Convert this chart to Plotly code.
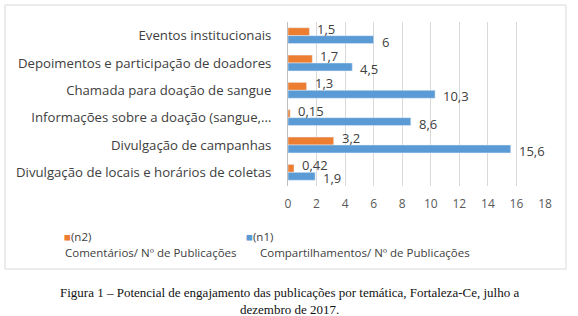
import plotly.graph_objects as go

categories = ["Eventos institucionais", "Depoimentos e participação de doadores",
              "Chamada para doação de sangue", "Informações sobre a doação (sangue,...",
              "Divulgação de campanhas", "Divulgação de locais e horários de coletas"]
n2_values = [1.5, 1.7, 1.3, 0.15, 3.2, 0.42]
n1_values = [6, 4.5, 10.3, 8.6, 15.6, 1.9]
n2_labels = ["1,5", "1,7", "1,3", "0,15", "3,2", "0,42"]
n1_labels = ["6", "4,5", "10,3", "8,6", "15,6", "1,9"]
n2_name = ["(n2)", "Comentários/ Nº de Publicações"]
n1_name = ["(n1)", "Compartilhamentos/ Nº de Publicações"]
x_ticks = [0, 2, 4, 6, 8, 10, 12, 14, 16, 18]
caption = "Figura 1 – Potencial de engajamento das publicações por temática, Fortaleza-Ce, julho a<br>dezembro de 2017."

ORANGE = "#ED7D31"
BLUE = "#5B9BD5"
font = "Open Sans"

fig = go.Figure()
fig.add_trace(go.Bar(y=categories, x=n2_values, orientation="h", name=" ".join(n2_name),
                     marker_color=ORANGE, showlegend=False))
fig.add_trace(go.Bar(y=categories, x=n1_values, orientation="h", name=" ".join(n1_name),
                     marker_color=BLUE, showlegend=False))

# plot area: x 288..545, y 22..186 (px)
PL, PR, PT, PB = 288, 545, 22, 186
W, H = PR - PL, PB - PT


def px_x(x):
    return (x - PL) / W


def px_y(y):
    return (PB - y) / H


annotations = []
label_font = dict(family=font, size=13, color="#404040")
for cat, v, lab in zip(categories, n2_values, n2_labels):
    annotations.append(dict(x=v, y=cat, xref="x", yref="y", text=lab, showarrow=False,
                            xanchor="left", yanchor="middle", xshift=6, yshift=7,
                            font=label_font))
for cat, v, lab in zip(categories, n1_values, n1_labels):
    annotations.append(dict(x=v, y=cat, xref="x", yref="y", text=lab, showarrow=False,
                            xanchor="left", yanchor="middle", xshift=6, yshift=-6,
                            font=label_font))

legend_font = dict(family=font, size=11.5, color="#404040")
for name, color, sx, lx in [(n2_name, ORANGE, 62, 63), (n1_name, BLUE, 244, 258)]:
    annotations.append(dict(text=f'<span style="color:{color}">■</span>{name[0]}',
                            xref="paper", yref="paper", x=px_x(sx), y=px_y(236),
                            xanchor="left", yanchor="middle", showarrow=False,
                            font=legend_font))
    annotations.append(dict(text=name[1], xref="paper", yref="paper",
                            x=px_x(lx), y=px_y(252), xanchor="left", yanchor="middle",
                            showarrow=False, font=legend_font))
annotations.append(dict(text=caption, xref="paper", yref="paper", x=px_x(289), y=px_y(283),
                        xanchor="center", yanchor="top", showarrow=False,
                        font=dict(family="Liberation Serif", size=13, color="#111111"),
                        align="center"))

fig.update_layout(
    width=578, height=316,
    margin=dict(l=PL, r=578 - PR, t=PT, b=316 - PB, autoexpand=False, pad=0),
    paper_bgcolor="white", plot_bgcolor="white",
    barmode="group", bargap=0.42, bargroupgap=0,
    font=dict(family=font, color="#404040"),
    showlegend=False,
    separators=",.",
    xaxis=dict(range=[0, 18], tickvals=x_ticks, showgrid=True, gridcolor="#D9D9D9",
               zeroline=False, showline=False, tickfont=dict(size=12, color="#595959"),
               ticks="", ticklen=0, ticklabelstandoff=9),
    yaxis=dict(range=[len(categories) - 0.5, -0.5], autorange=False,
               categoryorder="array", categoryarray=categories,
               showline=True, linecolor="#BFBFBF",
               tickfont=dict(size=13.2, color="#404040"), ticks="", ticklabelstandoff=13),
    shapes=[dict(type="rect", xref="paper", yref="paper", x0=px_x(5), x1=px_x(566),
                 y0=px_y(269), y1=px_y(5), line=dict(color="#D9D9D9", width=1))],
    annotations=annotations,
)
fig.write_html("out.html", config={"displayModeBar": False},
               post_script="document.body.style.margin='0';")
